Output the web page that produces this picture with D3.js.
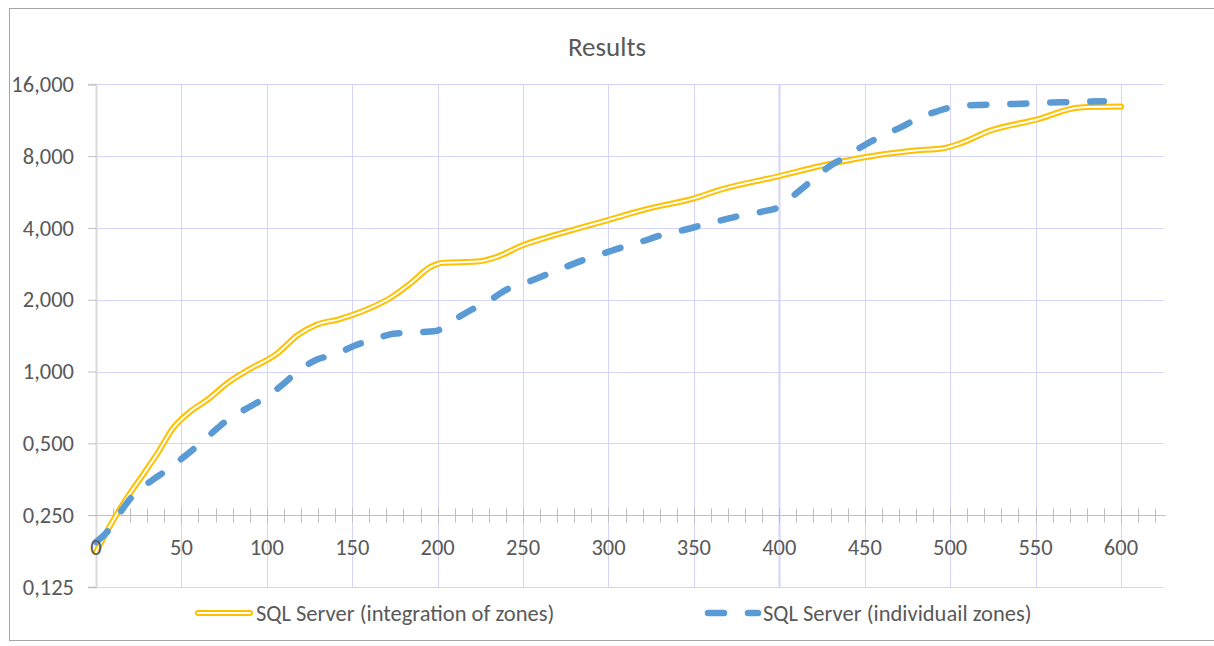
<!DOCTYPE html>
<html><head><meta charset="utf-8">
<script src="https://cdn.jsdelivr.net/npm/d3@7"></script>
<style>body{margin:0;background:#fff} svg{display:block}</style>
</head><body>
<svg id="c" width="1214" height="646"></svg>
<script>
const title = "Results";
const seriesNames = ["SQL Server (integration of zones)", "SQL Server (individuail zones)"];
const yTicks = [0.125, 0.25, 0.5, 1, 2, 4, 8, 16];
const xTicks = [0, 50, 100, 150, 200, 250, 300, 350, 400, 450, 500, 550, 600];

const integrationX = [0, 8, 16, 28, 36, 45, 55, 65, 78, 89, 106, 118, 129, 142, 156, 172, 184, 196, 203, 223, 235, 250, 264, 281, 299, 313, 324, 350, 365, 400, 424, 449, 478, 496, 506, 523, 551, 576, 600];
const integrationY = [0.175, 0.224, 0.28, 0.374, 0.454, 0.578, 0.678, 0.76, 0.906, 1.015, 1.19, 1.42, 1.57, 1.655, 1.79, 2.03, 2.34, 2.75, 2.86, 2.89, 3.03, 3.39, 3.65, 3.96, 4.3, 4.6, 4.83, 5.32, 5.77, 6.6, 7.27, 7.9, 8.43, 8.63, 9.05, 10.2, 11.4, 12.8, 12.9];

const individualX = [0, 8, 15, 22, 33, 41, 52, 61, 71, 78, 90, 100, 110, 118, 129, 140, 152, 162, 174, 187, 199, 208, 220, 230, 240, 252, 263, 274, 285, 296, 308, 319, 331, 342, 355, 365, 379, 390, 401, 410, 420, 429, 439, 449, 461, 471, 482, 492, 505, 516, 529, 541, 553, 564, 576, 590];
const individualY = [0.193, 0.219, 0.262, 0.304, 0.351, 0.384, 0.442, 0.5, 0.578, 0.636, 0.712, 0.784, 0.892, 1.0, 1.12, 1.18, 1.29, 1.36, 1.44, 1.46, 1.48, 1.62, 1.82, 1.98, 2.2, 2.36, 2.54, 2.73, 2.93, 3.11, 3.32, 3.5, 3.73, 3.89, 4.11, 4.29, 4.53, 4.68, 4.94, 5.59, 6.4, 7.22, 7.95, 8.82, 9.81, 10.56, 11.6, 12.3, 13.0, 13.1, 13.2, 13.25, 13.4, 13.45, 13.5, 13.6];

const FONT = "Carlito, Lato, 'Liberation Sans', sans-serif";
const TXT = "#595959";
const GRID = "#d4d4fa";
const YELLOW = "#FFC000";
const BLUE = "#5B9BD5";
const FS = 22.5;

const svg = d3.select("#c");
// frame
svg.append("rect").attr("x", 9.5).attr("y", 8.5).attr("width", 1214).attr("height", 632)
  .attr("fill", "none").attr("stroke", "#a6a6a6").attr("stroke-width", 1);

const x = d3.scaleLinear().domain([0, 626]).range([96, 1165.4]);
const y = d3.scaleLog().base(2).domain([0.125, 16]).range([587, 84.3]);
const xEnd = x(625);

// title
svg.append("text").attr("x", 607).attr("y", 56).attr("text-anchor", "middle")
  .attr("font-family", FONT).attr("font-size", 27).attr("fill", TXT).text(title);

// horizontal gridlines
svg.append("g").selectAll("line").data(yTicks.filter(d => d !== 0.25)).join("line")
  .attr("x1", x(0)).attr("x2", xEnd)
  .attr("y1", d => Math.round(y(d)) + 0.5).attr("y2", d => Math.round(y(d)) + 0.5)
  .attr("stroke", GRID).attr("stroke-width", 1);
// vertical gridlines
svg.append("g").selectAll("line").data(xTicks.filter(d => d > 0)).join("line")
  .attr("x1", d => Math.round(x(d)) + 0.5).attr("x2", d => Math.round(x(d)) + 0.5)
  .attr("y1", y(16)).attr("y2", y(0.125))
  .attr("stroke", GRID).attr("stroke-width", d => d === 400 ? 2 : 1);

// y axis
const yAxis = d3.axisLeft(y).tickValues(yTicks).tickSize(8).tickPadding(14)
  .tickFormat(d => d.toFixed(3).replace(".", ","));
const gy = svg.append("g").attr("transform", `translate(${x(0)},0)`).call(yAxis);
gy.select(".domain").attr("stroke", "#d9d9d9").attr("stroke-width", 2);
gy.selectAll(".tick line").attr("stroke", "#bfbfbf");
gy.selectAll(".tick text").attr("font-family", FONT).attr("font-size", FS).attr("fill", TXT);

// x axis at 0.25
const minor = d3.range(10, 621, 10);
const y25 = Math.round(y(0.25)) + 0.5;
svg.append("line").attr("x1", x(0) - 8).attr("x2", x(626)).attr("y1", y25).attr("y2", y25)
  .attr("stroke", "#bfbfbf").attr("stroke-width", 1);
svg.append("g").selectAll("line").data(minor).join("line")
  .attr("x1", d => Math.round(x(d)) + 0.5).attr("x2", d => Math.round(x(d)) + 0.5)
  .attr("y1", y25 - 7).attr("y2", y25 + 7)
  .attr("stroke", "#bfbfbf").attr("stroke-width", 1);

// lines
const line = d3.line().x(d => x(d[0])).y(d => y(d[1])).curve(d3.curveMonotoneX);
const integ = integrationX.map((v, i) => [v, integrationY[i]]);
const indiv = individualX.map((v, i) => [v, individualY[i]]);

svg.append("path").attr("d", line(integ)).attr("fill", "none")
  .attr("stroke", YELLOW).attr("stroke-width", 6).attr("stroke-linejoin", "round").attr("stroke-linecap", "round");
svg.append("path").attr("d", line(integ)).attr("fill", "none")
  .attr("stroke", "#fff").attr("stroke-width", 2).attr("stroke-linejoin", "round").attr("stroke-linecap", "round");
svg.append("path").attr("d", line(indiv)).attr("fill", "none")
  .attr("stroke", BLUE).attr("stroke-width", 6.5).attr("stroke-dasharray", "16,24")
  .attr("stroke-linecap", "round").attr("stroke-linejoin", "round");

// x tick labels (drawn above the lines so "0" stays readable)
svg.append("g").selectAll("text").data(xTicks).join("text")
  .attr("x", d => x(d)).attr("y", y25 + 39).attr("text-anchor", "middle")
  .attr("font-family", FONT).attr("font-size", FS).attr("fill", TXT)
  .text(d => d);

// legend
const ly = 613;
svg.append("line").attr("x1", 198).attr("x2", 250).attr("y1", ly).attr("y2", ly)
  .attr("stroke", YELLOW).attr("stroke-width", 6).attr("stroke-linecap", "round");
svg.append("line").attr("x1", 198).attr("x2", 250).attr("y1", ly).attr("y2", ly)
  .attr("stroke", "#fff").attr("stroke-width", 2).attr("stroke-linecap", "round");
svg.append("text").attr("x", 256).attr("y", ly + 8).attr("font-family", FONT).attr("font-size", FS)
  .attr("fill", TXT).text(seriesNames[0]);
svg.append("line").attr("x1", 708).attr("x2", 758).attr("y1", ly).attr("y2", ly)
  .attr("stroke", BLUE).attr("stroke-width", 6.5).attr("stroke-dasharray", "16,24").attr("stroke-linecap", "round");
svg.append("text").attr("x", 763).attr("y", ly + 8).attr("font-family", FONT).attr("font-size", FS)
  .attr("fill", TXT).text(seriesNames[1]);
</script>
</body></html>
